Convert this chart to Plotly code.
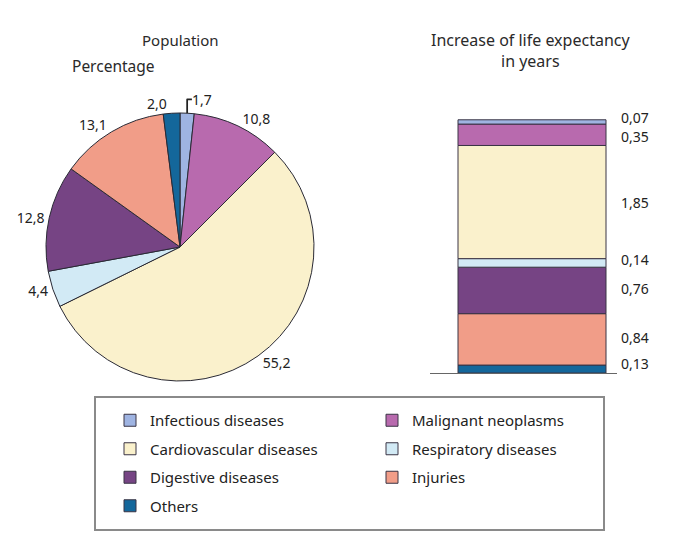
import plotly.graph_objects as go

W, H = 685, 536
OFF = 8  # default page body margin; figure is drawn 8px in from the corner
FW, FH = W - OFF, H - OFF

categories = ["Infectious diseases", "Malignant neoplasms", "Cardiovascular diseases",
              "Respiratory diseases", "Digestive diseases", "Injuries", "Others"]
population_pct = [1.7, 10.8, 55.2, 4.4, 12.8, 13.1, 2.0]
life_exp_gain = [0.07, 0.35, 1.85, 0.14, 0.76, 0.84, 0.13]
colors = ["#9fb4e2", "#b86aae", "#faf1cc", "#d2eaf5", "#764484", "#f19d88", "#14679b"]
legend_column = [1, 2, 1, 2, 1, 2, 1]

FONT = "Noto Sans"
TXT = "#222222"


def px_x(p):
    return (p - OFF) / FW


def px_y(p):
    return 1 - (p - OFF) / FH


fig = go.Figure()

fig.add_trace(go.Pie(
    labels=categories, values=population_pct, sort=False, direction="clockwise",
    rotation=0, marker=dict(colors=colors, line=dict(color="#2a2a35", width=1)),
    texttemplate="%{value:.1f}", textposition="outside", hoverinfo="label+value",
    textfont=dict(size=14, color=TXT, family=FONT),
    domain=dict(x=[px_x(46), px_x(314)], y=[px_y(381), px_y(113)]),
    showlegend=False,
))

# stacked bar, bottom to top
order = list(range(len(categories)))[::-1]
cum = 0.0
mids = []
for i in order:
    fig.add_trace(go.Bar(
        x=[102], y=[life_exp_gain[i]], width=[148], base=[cum],
        marker=dict(color=colors[i], line=dict(color="#3a3445", width=1)),
        xaxis="x2", yaxis="y2", name=categories[i], showlegend=True,
        legend="legend" if legend_column[i] == 1 else "legend2",
        legendgroup=categories[i], legendrank=i,
    ))
    mids.append((i, cum + life_exp_gain[i] / 2))
    cum += life_exp_gain[i]

legend_style = dict(orientation="v", xanchor="left", yanchor="top",
                    font=dict(size=15, color=TXT, family=FONT),
                    bgcolor="rgba(0,0,0,0)", traceorder="grouped", tracegroupgap=6,
                    itemclick=False, itemdoubleclick=False)

fig.update_layout(
    width=FW, height=FH, margin=dict(l=0, r=0, t=0, b=0),
    paper_bgcolor="white", plot_bgcolor="white",
    separators=", ",
    barmode="overlay",
    xaxis2=dict(domain=[px_x(430), px_x(617)], range=[0, 187], showline=True,
                linecolor="#666666", linewidth=1, showgrid=False, zeroline=False,
                showticklabels=False, ticks="", anchor="y2", fixedrange=True),
    yaxis2=dict(domain=[px_y(373), px_y(110)], range=[0, 4.30], showline=False,
                showgrid=False, zeroline=False, showticklabels=False, ticks="",
                anchor="x2", fixedrange=True),
    legend=dict(x=px_x(110), y=px_y(404), **legend_style),
    legend2=dict(x=px_x(372), y=px_y(404), **legend_style),
    shapes=[dict(type="rect", xref="paper", yref="paper",
                 x0=px_x(95), x1=px_x(604), y0=px_y(530), y1=px_y(397),
                 line=dict(color="#8a8a8a", width=2), layer="below")],
)

title_font = dict(color="#2a2a2a", family=FONT)
fig.add_annotation(text="Population", x=px_x(180), y=px_y(40), xref="paper", yref="paper",
                   xanchor="center", yanchor="middle", showarrow=False,
                   font=dict(size=15, **title_font))
fig.add_annotation(text="Percentage", x=px_x(114), y=px_y(66), xref="paper", yref="paper",
                   xanchor="center", yanchor="middle", showarrow=False,
                   font=dict(size=15.5, **title_font))
fig.add_annotation(text="Increase of life expectancy<br>in years", x=px_x(530), y=px_y(50),
                   xref="paper", yref="paper", xanchor="center", yanchor="middle",
                   showarrow=False, font=dict(size=16, **title_font))

shifts = {0: 4, 1: -2, 3: 3, 4: 2, 5: 2, 6: 6}
for i, m in mids:
    fig.add_annotation(
        x=px_x(619), y=m, xref="paper", yref="y2", xanchor="left", yanchor="middle",
        text=f"{life_exp_gain[i]:.2f}".replace(".", ","), showarrow=False,
        font=dict(size=14, color=TXT, family=FONT), yshift=shifts.get(i, 0),
    )

fig.write_html("out.html")
